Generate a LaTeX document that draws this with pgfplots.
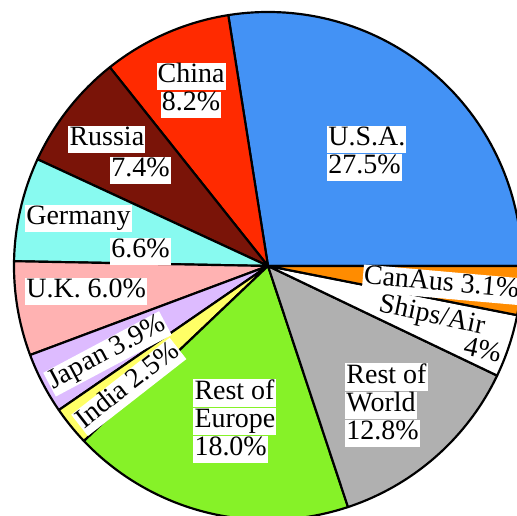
\documentclass[border=0pt]{standalone}
\usepackage{fontspec}
\setmainfont{Liberation Serif}
\usepackage{pgfplots}
\pgfplotsset{compat=1.18}
\definecolor{cUSA}{HTML}{4392F5}
\definecolor{cChina}{HTML}{FF2A00}
\definecolor{cRussia}{HTML}{7A1408}
\definecolor{cGermany}{HTML}{88FAF0}
\definecolor{cUK}{HTML}{FFB2B2}
\definecolor{cJapan}{HTML}{DDBBFF}
\definecolor{cIndia}{HTML}{FFFF66}
\definecolor{cEurope}{HTML}{86F228}
\definecolor{cWorld}{HTML}{B0B0B0}
\definecolor{cShips}{HTML}{FFFFFF}
\definecolor{cCanAus}{HTML}{FF8C00}
\setlength{\fboxsep}{0pt}
\newcommand\wb[1]{\colorbox{white}{\kern0.6pt\rule[-4.2pt]{0pt}{14.8pt}#1\kern0.6pt}}
\begin{document}
\begin{tikzpicture}[every node/.style={font=\fontsize{15.4}{15.4}\selectfont, inner sep=0pt, text=black}]
\begin{axis}[hide axis, scale only axis, width=10cm, height=9.981cm,
  xmin=-1.0551, xmax=0.9803, ymin=-0.9843, ymax=1.0472, clip=true,
  every axis plot/.append style={draw=black, line width=1.2pt, line join=round, data cs=polar, samples=70}]
% shares in percent; cumulative: 27.5, 35.7, 43.1, 49.7, 55.7, 59.6, 62.1, 80.1, 92.9, 96.9, 100
\addplot[fill=cUSA,    domain=3.6*0.0:3.6*27.5]  {1} -- (axis cs:0,0) -- cycle; % U.S.A. 27.5
\addplot[fill=cChina,  domain=3.6*27.5:3.6*35.7] {1} -- (axis cs:0,0) -- cycle; % China 8.2
\addplot[fill=cRussia, domain=3.6*35.7:3.6*43.1] {1} -- (axis cs:0,0) -- cycle; % Russia 7.4
\addplot[fill=cGermany,domain=3.6*43.1:3.6*49.7] {1} -- (axis cs:0,0) -- cycle; % Germany 6.6
\addplot[fill=cUK,     domain=3.6*49.7:3.6*55.7] {1} -- (axis cs:0,0) -- cycle; % U.K. 6.0
\addplot[fill=cJapan,  domain=3.6*55.7:3.6*59.6] {1} -- (axis cs:0,0) -- cycle; % Japan 3.9
\addplot[fill=cIndia,  domain=3.6*59.6:3.6*62.1] {1} -- (axis cs:0,0) -- cycle; % India 2.5
\addplot[fill=cEurope, domain=3.6*62.1:3.6*80.1] {1} -- (axis cs:0,0) -- cycle; % Rest of Europe 18.0
\addplot[fill=cWorld,  domain=3.6*80.1:3.6*92.9] {1} -- (axis cs:0,0) -- cycle; % Rest of World 12.8
\addplot[fill=cShips,  domain=3.6*92.9:3.6*96.9] {1} -- (axis cs:0,0) -- cycle; % Ships/Air 4
\addplot[fill=cCanAus, domain=3.6*96.9:3.6*100]  {1} -- (axis cs:0,0) -- cycle; % CanAus 3.1
\coordinate (sw) at (rel axis cs:0,0);
\coordinate (ne) at (rel axis cs:1,1);
\node[anchor=north west, align=left] at (axis cs:0.232,0.551) {\wb{U.S.A.}\\\wb{27.5\%}};
\node[anchor=north, align=center] at (axis cs:-0.303,0.799) {\wb{China}\\\wb{8.2\%}};
\node[anchor=north west] at (axis cs:-0.787,0.551) {\wb{Russia}};
\node[anchor=north west] at (axis cs:-0.622,0.429) {\wb{7.4\%}};
\node[anchor=north west] at (axis cs:-0.957,0.240) {\wb{Germany}};
\node[anchor=north west] at (axis cs:-0.622,0.110) {\wb{6.6\%}};
\node[anchor=north west] at (axis cs:-0.957,-0.047) {\wb{U.K. 6.0\%}};
\node[rotate=28] at (axis cs:-0.632,-0.346) {\wb{Japan 3.9\%}};
\node[rotate=38] at (axis cs:-0.548,-0.476) {\wb{India 2.5\%}};
\node[anchor=north west, align=left] at (axis cs:-0.295,-0.445) {\wb{Rest of}\\\wb{Europe}\\\wb{18.0\%}};
\node[anchor=north west, align=left] at (axis cs:0.303,-0.382) {\wb{Rest of}\\\wb{World}\\\wb{12.8\%}};
\node[rotate=-12] at (axis cs:0.645,-0.198) {Ships/Air};
\node[rotate=-12] at (axis cs:0.846,-0.330) {4\%};
\node[rotate=-5, anchor=west] at (axis cs:0.372,-0.047) {\wb{CanAus 3.1\%}};
\end{axis}
\pgfresetboundingbox
\path[use as bounding box] (sw) rectangle (ne);
\end{tikzpicture}
\end{document}
